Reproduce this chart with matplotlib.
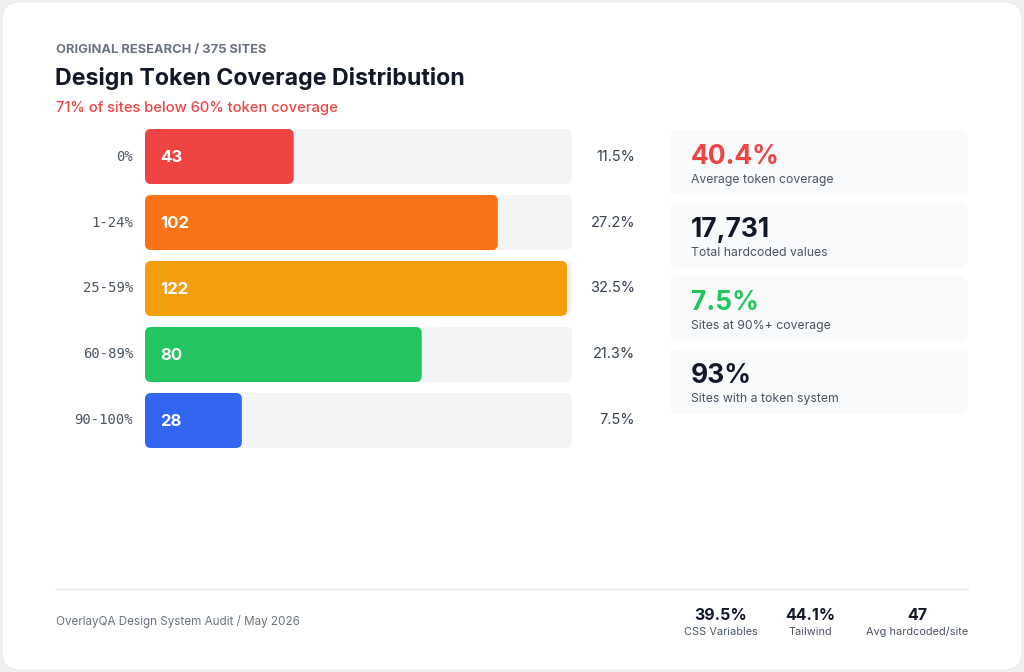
import matplotlib
matplotlib.use("Agg")
import matplotlib.pyplot as plt
from matplotlib.patches import FancyBboxPatch
from matplotlib.lines import Line2D

# data
ranges = ["0%", "1-24%", "25-59%", "60-89%", "90-100%"]
counts = [43, 102, 122, 80, 28]
shares = ["11.5%", "27.2%", "32.5%", "21.3%", "7.5%"]
bar_colors = ["#ef4444", "#f97316", "#f59e0b", "#22c55e", "#3366f0"]

stat_values = ["40.4%", "17,731", "7.5%", "93%"]
stat_labels = ["Average token coverage", "Total hardcoded values",
               "Sites at 90%+ coverage", "Sites with a token system"]
stat_colors = ["#ef4444", "#111827", "#22c55e", "#111827"]

foot_values = ["39.5%", "44.1%", "47"]
foot_labels = ["CSS Variables", "Tailwind", "Avg hardcoded/site"]

FONT = "Inter"
W, H = 1024, 672

fig = plt.figure(figsize=(W / 100, H / 100), dpi=100)
fig.patch.set_facecolor("#eef0f2")

# page axes in pixel coordinates
bg = fig.add_axes([0, 0, 1, 1])
bg.set_xlim(0, W)
bg.set_ylim(H, 0)
bg.axis("off")
bg.add_patch(FancyBboxPatch((2, 2), W - 4, H - 4, boxstyle="round,pad=0,rounding_size=18",
                            fc="white", ec="#e8eaed", lw=0.8))

bg.text(56, 50, "ORIGINAL RESEARCH / 375 SITES", fontsize=9.3, fontweight="bold",
        color="#6b7280", family=FONT, va="center")
bg.text(55, 79, "Design Token Coverage Distribution", fontsize=16.7, fontweight="bold",
        color="#111827", family=FONT, va="center")
bg.text(56, 108, "71% of sites below 60% token coverage", fontsize=10.6, fontweight="medium",
        color="#ef4444", family=FONT, va="center")

# bar axes: x in site counts, y in row index
x0, x1, y0, y1 = 145, 572, 129, 448
ax = fig.add_axes([x0 / W, 1 - y1 / H, (x1 - x0) / W, (y1 - y0) / H])
ax.axis("off")
xmax = 122 * (x1 - x0) / 422.0
ax.set_xlim(0, xmax)
ax.set_ylim(len(counts) - 1 + 0.4167, -0.4167)

px_per_x = (x1 - x0) / xmax
px_per_y = (y1 - y0) / (len(counts) - 1 + 2 * 0.4167)
aspect = px_per_x / px_per_y
rad = 6 / px_per_x
bh = 55 / px_per_y

for i, (r, c, s, col) in enumerate(zip(ranges, counts, shares, bar_colors)):
    ax.add_patch(FancyBboxPatch((0, i - bh / 2), xmax, bh,
                                boxstyle=f"round,pad=0,rounding_size={rad}",
                                mutation_aspect=aspect, fc="#f3f4f6", ec="none"))
    ax.add_patch(FancyBboxPatch((0, i - bh / 2), c, bh,
                                boxstyle=f"round,pad=0,rounding_size={rad}",
                                mutation_aspect=aspect, fc=col, ec="none"))
    ax.text(15 / px_per_x, i + 0.02, str(c), color="white", fontsize=12, fontweight="bold",
            family=FONT, va="center", ha="left")
    ax.text(-12 / px_per_x, i, r, color="#4b5563", fontsize=10,
            family="DejaVu Sans Mono", va="center", ha="right", clip_on=False)
    ax.text(xmax + 63 / px_per_x, i, s, color="#374151", fontsize=10.5,
            family=FONT, va="center", ha="right", clip_on=False)

# stat cards
for i, (v, lab, col) in enumerate(zip(stat_values, stat_labels, stat_colors)):
    top = 130 + i * 73
    bg.add_patch(FancyBboxPatch((670, top), 298, 65, boxstyle="round,pad=0,rounding_size=8",
                                fc="#f8fafc", ec="none"))
    bg.text(691, top + 27, v, fontsize=19, fontweight="bold", color=col,
            family=FONT, va="center")
    bg.text(691, top + 50, lab, fontsize=8.8, color="#4b5563", family=FONT, va="center")

# footer
bg.add_line(Line2D([56, 968], [589, 589], color="#e5e7eb", lw=1))
bg.text(56, 622, "OverlayQA Design System Audit / May 2026", fontsize=8.4,
        color="#6b7280", family=FONT, va="center")
for xc, v, lab in zip([721, 810, 917], foot_values, foot_labels):
    bg.text(xc, 615, v, fontsize=11.5, fontweight="bold", color="#111827",
            family=FONT, va="center", ha="center")
    bg.text(xc, 632, lab, fontsize=7.9, color="#4b5563", family=FONT,
            va="center", ha="center")

fig.savefig("out.png", dpi=100, facecolor=fig.get_facecolor())
